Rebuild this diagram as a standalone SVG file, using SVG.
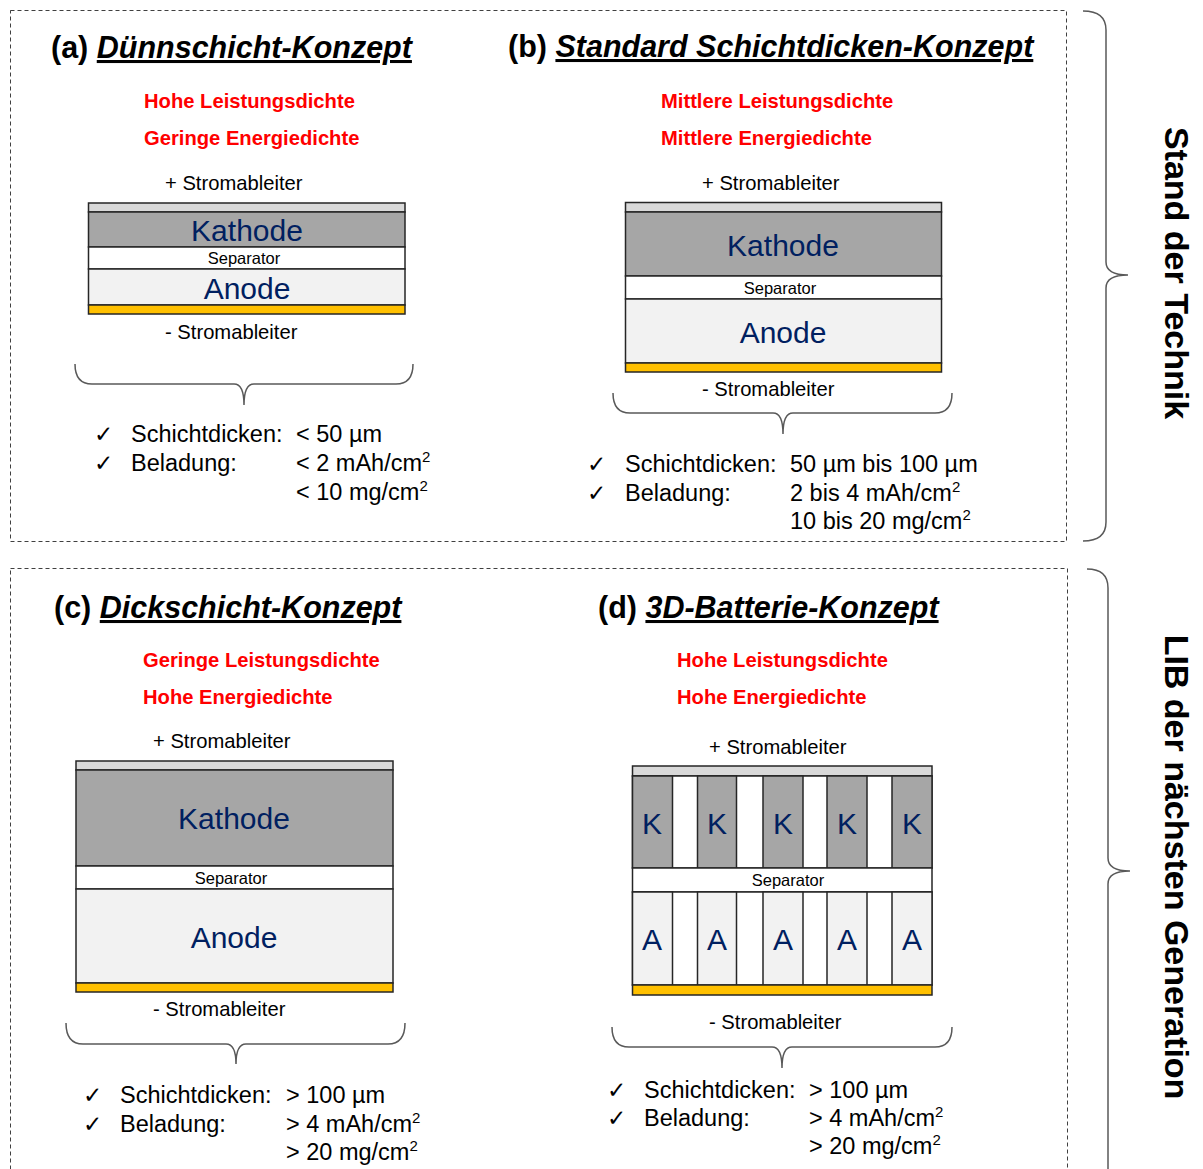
<svg xmlns="http://www.w3.org/2000/svg" width="1203" height="1169" viewBox="0 0 1203 1169">
<style>
.t{font-family:"Liberation Sans",Arial,sans-serif;}
.title{font-family:"Liberation Sans",Arial,sans-serif;font-size:30.5px;font-weight:bold;fill:#000;}
.ti{font-style:italic;text-decoration:underline;}
.red{font-family:"Liberation Sans",Arial,sans-serif;font-size:20.2px;font-weight:bold;fill:#FF0000;}
.lbl{font-family:"Liberation Sans",Arial,sans-serif;font-size:20.2px;fill:#000;}
.big{font-family:"Liberation Sans",Arial,sans-serif;font-size:30px;fill:#002060;text-anchor:middle;}
.sep{font-family:"Liberation Sans",Arial,sans-serif;font-size:16.5px;fill:#000;text-anchor:middle;}
.lst{font-family:"Liberation Sans",Arial,sans-serif;font-size:23.5px;fill:#000;}
.chk{font-family:"DejaVu Sans",sans-serif;font-size:23px;fill:#000;}
.side{font-family:"Liberation Sans",Arial,sans-serif;font-size:34px;font-weight:bold;fill:#000;text-anchor:middle;}
.strip{fill:#D9D9D9;stroke:#262626;stroke-width:1.5;}
.kat{fill:#A6A6A6;stroke:#262626;stroke-width:1.5;}
.sp{fill:#FFFFFF;stroke:#262626;stroke-width:1.5;}
.an{fill:#F2F2F2;stroke:#262626;stroke-width:1.5;}
.cu{fill:#FFC000;stroke:#262626;stroke-width:1.5;}
.brace{fill:none;stroke:#595959;stroke-width:1.5;}
.box{fill:none;stroke:#404040;stroke-width:1;stroke-dasharray:4 3;}
</style>

<g id="frames">
<rect class="box" x="10.5" y="10.5" width="1056" height="531"/>
<rect class="box" x="10.5" y="568.5" width="1057" height="640"/>
</g>

<g id="connectors">
<path class="brace" d="M75,364 Q75,384 92,384 L234,384 Q244,384 244,405 Q244,384 254,384 L396,384 Q413,384 413,364"/>
<path class="brace" d="M613,393 Q613,413 630,413 L773,413 Q783,413 783,434 Q783,413 793,413 L935,413 Q952,413 952,393"/>
<path class="brace" d="M66,1023 Q66,1044 83,1044 L226,1044 Q236,1044 236,1064 Q236,1044 246,1044 L388,1044 Q405,1044 405,1023"/>
<path class="brace" d="M612,1027 Q612,1047 629,1047 L772,1047 Q782,1047 782,1068 Q782,1047 792,1047 L935,1047 Q952,1047 952,1027"/>
<path class="brace" d="M1083,11 Q1106,11 1106,30 L1106,262 Q1106,275 1128,275 Q1106,275 1106,288 L1106,522 Q1106,541 1083,541"/>
<path class="brace" d="M1087,569 Q1108,569 1108,588 L1108,858 Q1108,871 1130,871 Q1108,871 1108,884 L1108,1180"/>
</g>

<g id="side-labels">
<text class="side" transform="translate(1165,273) rotate(90)">Stand der Technik</text>
<text class="side" transform="translate(1165,867) rotate(90)">LIB der nächsten Generation</text>
</g>

<g id="panel-a">
<text class="title" x="51" y="58">(a) <tspan class="ti">Dünnschicht-Konzept</tspan></text>
<text class="red" x="144" y="108">Hohe Leistungsdichte</text>
<text class="red" x="144" y="145">Geringe Energiedichte</text>
<text class="lbl" x="165" y="190">+ Stromableiter</text>
<rect class="strip" x="88.5" y="203" width="316.5" height="9"/>
<rect class="kat" x="88.5" y="212" width="316.5" height="35"/>
<rect class="sp" x="88.5" y="247" width="316.5" height="22"/>
<rect class="an" x="88.5" y="269" width="316.5" height="36"/>
<rect class="cu" x="88.5" y="305" width="316.5" height="9"/>
<text class="big" x="247" y="241">Kathode</text>
<text class="sep" x="244" y="264">Separator</text>
<text class="big" x="247" y="299">Anode</text>
<text class="lbl" x="165" y="339">- Stromableiter</text>
<text class="chk" x="94" y="442">✓</text>
<text class="chk" x="94" y="471">✓</text>
<text class="lst" x="131" y="442">Schichtdicken:</text>
<text class="lst" x="131" y="471">Beladung:</text>
<text class="lst" x="296" y="442">&lt; 50 µm</text>
<text class="lst" x="296" y="471">&lt; 2 mAh/cm<tspan font-size="15" dy="-9">2</tspan></text>
<text class="lst" x="296" y="500">&lt; 10 mg/cm<tspan font-size="15" dy="-9">2</tspan></text>
</g>

<g id="panel-b">
<text class="title" x="508" y="57">(b) <tspan class="ti">Standard Schichtdicken-Konzept</tspan></text>
<text class="red" x="661" y="108">Mittlere Leistungsdichte</text>
<text class="red" x="661" y="145">Mittlere Energiedichte</text>
<text class="lbl" x="702" y="190">+ Stromableiter</text>
<rect class="strip" x="625.5" y="202.5" width="316" height="9.5"/>
<rect class="kat" x="625.5" y="212" width="316" height="64"/>
<rect class="sp" x="625.5" y="276" width="316" height="23"/>
<rect class="an" x="625.5" y="299" width="316" height="64"/>
<rect class="cu" x="625.5" y="363" width="316" height="9"/>
<text class="big" x="783" y="256">Kathode</text>
<text class="sep" x="780" y="294">Separator</text>
<text class="big" x="783" y="343">Anode</text>
<text class="lbl" x="702" y="396">- Stromableiter</text>
<text class="chk" x="587" y="472">✓</text>
<text class="chk" x="587" y="501">✓</text>
<text class="lst" x="625" y="472">Schichtdicken:</text>
<text class="lst" x="625" y="501">Beladung:</text>
<text class="lst" x="790" y="472">50 µm bis 100 µm</text>
<text class="lst" x="790" y="501">2 bis 4 mAh/cm<tspan font-size="15" dy="-9">2</tspan></text>
<text class="lst" x="790" y="529">10 bis 20 mg/cm<tspan font-size="15" dy="-9">2</tspan></text>
</g>

<g id="panel-c">
<text class="title" x="54" y="618">(c) <tspan class="ti">Dickschicht-Konzept</tspan></text>
<text class="red" x="143" y="667">Geringe Leistungsdichte</text>
<text class="red" x="143" y="704">Hohe Energiedichte</text>
<text class="lbl" x="153" y="748">+ Stromableiter</text>
<rect class="strip" x="76" y="761" width="317" height="9"/>
<rect class="kat" x="76" y="770" width="317" height="96"/>
<rect class="sp" x="76" y="866" width="317" height="23"/>
<rect class="an" x="76" y="889" width="317" height="94"/>
<rect class="cu" x="76" y="983" width="317" height="9"/>
<text class="big" x="234" y="829">Kathode</text>
<text class="sep" x="231" y="884">Separator</text>
<text class="big" x="234" y="948">Anode</text>
<text class="lbl" x="153" y="1016">- Stromableiter</text>
<text class="chk" x="83" y="1103">✓</text>
<text class="chk" x="83" y="1132">✓</text>
<text class="lst" x="120" y="1103">Schichtdicken:</text>
<text class="lst" x="120" y="1132">Beladung:</text>
<text class="lst" x="286" y="1103">&gt; 100 µm</text>
<text class="lst" x="286" y="1132">&gt; 4 mAh/cm<tspan font-size="15" dy="-9">2</tspan></text>
<text class="lst" x="286" y="1160">&gt; 20 mg/cm<tspan font-size="15" dy="-9">2</tspan></text>
</g>

<g id="panel-d">
<text class="title" x="598" y="618">(d) <tspan class="ti">3D-Batterie-Konzept</tspan></text>
<text class="red" x="677" y="667">Hohe Leistungsdichte</text>
<text class="red" x="677" y="704">Hohe Energiedichte</text>
<text class="lbl" x="709" y="754">+ Stromableiter</text>
<rect class="strip" x="632.5" y="766" width="299.5" height="10"/>
<rect class="sp" x="632.5" y="776" width="299.5" height="92"/>
<rect class="kat" x="632.5" y="776" width="40" height="92"/>
<rect class="kat" x="697.5" y="776" width="39" height="92"/>
<rect class="kat" x="763" y="776" width="40" height="92"/>
<rect class="kat" x="827" y="776" width="40" height="92"/>
<rect class="kat" x="892" y="776" width="40" height="92"/>
<rect class="sp" x="632.5" y="868" width="299.5" height="24"/>
<rect class="sp" x="632.5" y="892" width="299.5" height="93"/>
<rect class="an" x="632.5" y="892" width="40" height="93"/>
<rect class="an" x="697.5" y="892" width="39" height="93"/>
<rect class="an" x="763" y="892" width="40" height="93"/>
<rect class="an" x="827" y="892" width="40" height="93"/>
<rect class="an" x="892" y="892" width="40" height="93"/>
<rect class="cu" x="632.5" y="985" width="299.5" height="10"/>
<text class="big" x="652" y="834">K</text>
<text class="big" x="717" y="834">K</text>
<text class="big" x="783" y="834">K</text>
<text class="big" x="847" y="834">K</text>
<text class="big" x="912" y="834">K</text>
<text class="sep" x="788" y="886">Separator</text>
<text class="big" x="652" y="950">A</text>
<text class="big" x="717" y="950">A</text>
<text class="big" x="783" y="950">A</text>
<text class="big" x="847" y="950">A</text>
<text class="big" x="912" y="950">A</text>
<text class="lbl" x="709" y="1029">- Stromableiter</text>
<text class="chk" x="607" y="1098">✓</text>
<text class="chk" x="607" y="1126">✓</text>
<text class="lst" x="644" y="1098">Schichtdicken:</text>
<text class="lst" x="644" y="1126">Beladung:</text>
<text class="lst" x="809" y="1098">&gt; 100 µm</text>
<text class="lst" x="809" y="1126">&gt; 4 mAh/cm<tspan font-size="15" dy="-9">2</tspan></text>
<text class="lst" x="809" y="1154">&gt; 20 mg/cm<tspan font-size="15" dy="-9">2</tspan></text>
</g>
</svg>
